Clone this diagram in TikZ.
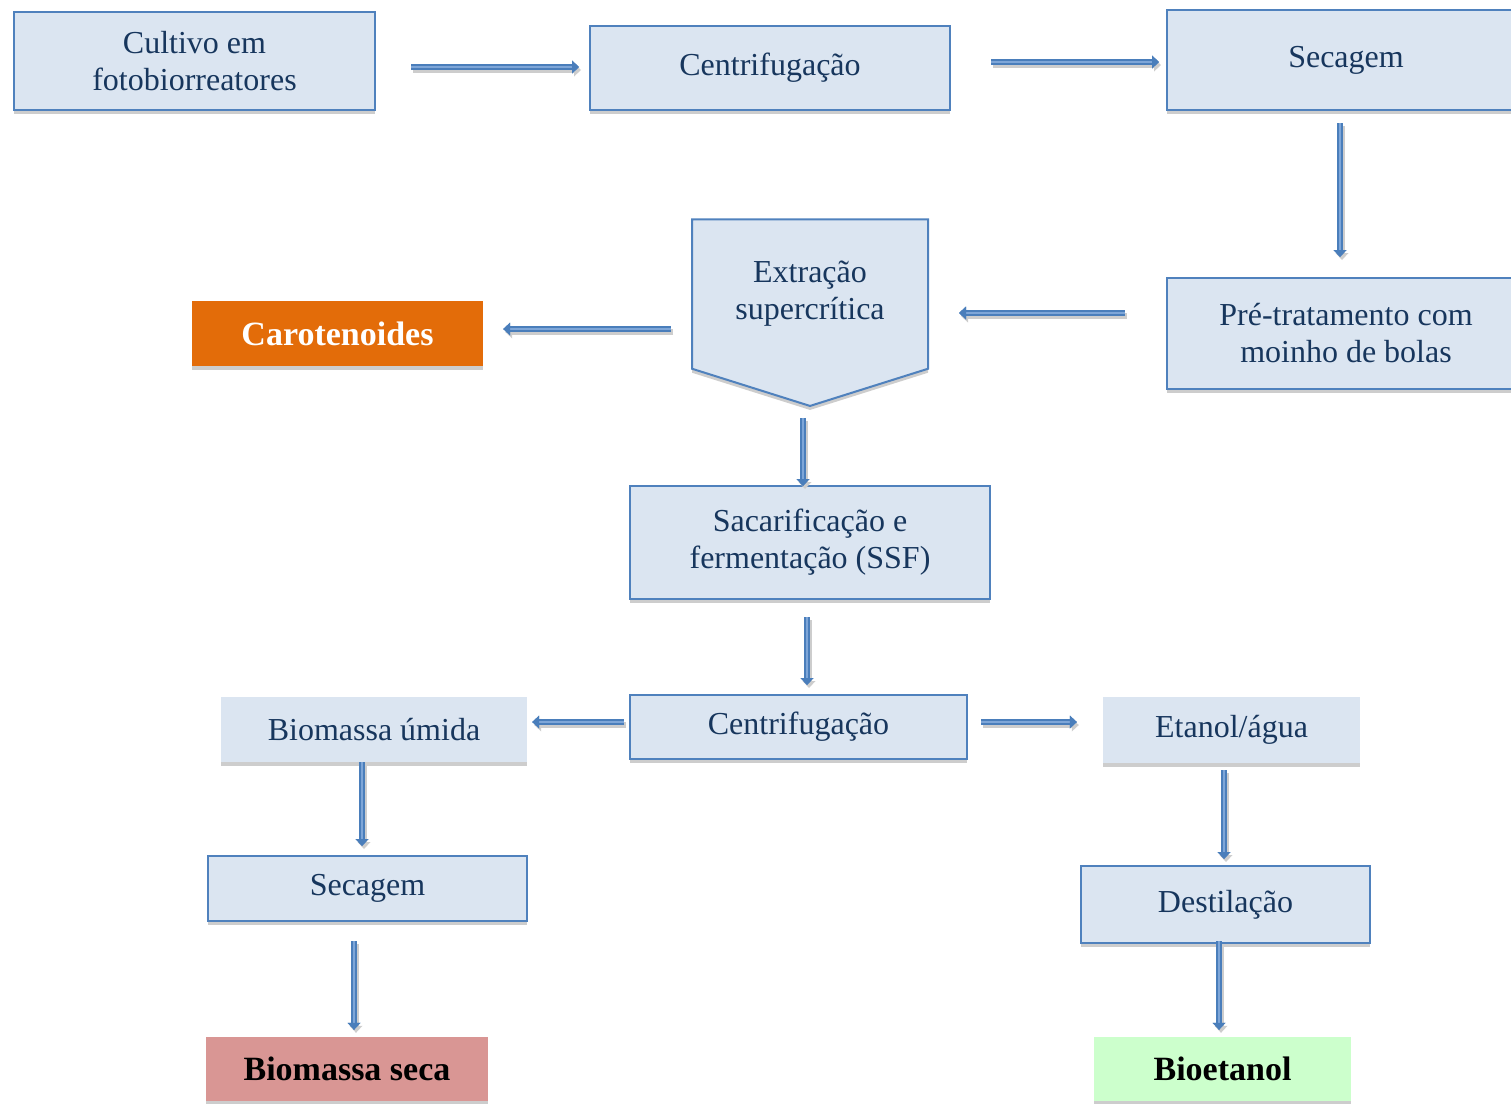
\documentclass[tikz,border=0pt]{standalone}
\usepackage{fontspec}
\setmainfont{Liberation Serif}
\usetikzlibrary{arrows.meta,calc,shapes.symbols}
\definecolor{borda}{RGB}{79,129,189}
\definecolor{fundo}{RGB}{219,229,241}
\definecolor{sombra}{RGB}{205,205,205}
\definecolor{texto}{RGB}{23,54,93}
\definecolor{laranja}{RGB}{227,108,9}
\definecolor{rosa}{RGB}{217,150,148}
\definecolor{verde}{RGB}{204,255,204}
\definecolor{setaborda}{RGB}{74,126,187}
\definecolor{setamiolo}{RGB}{126,166,216}
\begin{document}
\begin{tikzpicture}[x=1pt,y=-1pt,
  every node/.style={font=\fontsize{32}{37}\selectfont, text=texto, align=center, inner sep=0pt},
  caixa/.style={draw=borda, line width=2pt, fill=fundo, preaction={fill=sombra, transform canvas={yshift=-4pt}}},
  semborda/.style={fill=fundo, preaction={fill=sombra, transform canvas={yshift=-4pt}}},
  produto/.style={fill=#1, text=black, font=\fontsize{34}{37}\selectfont\bfseries, preaction={fill=sombra, transform canvas={yshift=-4pt}}},
  seta/.style={line width=2.5pt, draw=setamiolo, -{Triangle[width=13pt,length=7pt,line width=0pt,color=setaborda]},
    preaction={draw=sombra, line width=6pt, -{Triangle[width=13pt,length=7pt,line width=0pt]}, transform canvas={shift={(2pt,-3pt)}}},
    preaction={draw=setaborda, line width=6pt, -{Triangle[width=13pt,length=7pt,line width=0pt]}}}]
  \useasboundingbox (0,0) rectangle (1511,1103);

  \node[caixa, minimum width=361, minimum height=98] (cultivo) at (194.5,61) {Cultivo em\\fotobiorreatores};
  \node[caixa, minimum width=360, minimum height=84] (centrif1) at (770,68) {Centrifugação};
  \node[caixa, minimum width=358, minimum height=100] (secagem1) at (1346,60) {Secagem};
  \node[caixa, minimum width=358, minimum height=111] (pretrat) at (1346,333.5) {Pré-tratamento com\\moinho de bolas};
  \node[caixa, signal, signal to=south, signal pointer angle=145, minimum width=236, minimum height=173] (extracao) at (810,294) {Extração\\supercrítica};
  \node[produto=laranja, text=white, minimum width=291, minimum height=65] (carot) at (337.5,333.5) {Carotenoides};
  \node[caixa, minimum width=360, minimum height=113] (ssf) at (810,542.5) {Sacarificação e\\fermentação (SSF)};
  \node[caixa, minimum width=337, minimum height=64] (centrif2) at (798.5,727) {Centrifugação};
  \node[semborda, minimum width=306, minimum height=65] (bumida) at (374,729.5) {Biomassa úmida};
  \node[semborda, minimum width=257, minimum height=66] (etanol) at (1231.5,730) {Etanol/água};
  \node[caixa, minimum width=319, minimum height=65] (secagem2) at (367.5,888.5) {Secagem};
  \node[caixa, minimum width=289, minimum height=77] (destil) at (1225.5,904.5) {Destilação};
  \node[produto=rosa, minimum width=282, minimum height=64] (bseca) at (347,1069) {Biomassa seca};
  \node[produto=verde, minimum width=257, minimum height=64] (bioet) at (1222.5,1069) {Bioetanol};

  \draw[seta] ($(cultivo.east |- centrif1.west)+(35,-1)$) -- ($(centrif1.west)+(-10,-1)$);
  \draw[seta] ($(centrif1.east |- secagem1.west)+(40,2)$) -- ($(secagem1.west)+(-7,2)$);
  \draw[seta] ($(secagem1.south)+(-6,12)$) -- ($(pretrat.north)+(-6,-20)$);
  \draw[seta] ($(pretrat.west)+(-41,-20.5)$) -- ($(extracao.east |- pretrat.west)+(30,-20.5)$);
  \draw[seta] ($(extracao.west |- carot.east)+(-20,-4.5)$) -- ($(carot.east)+(20,-4.5)$);
  \draw[seta] ($(extracao.south)+(-7,11)$) -- ($(ssf.north)+(-7,1)$);
  \draw[seta] ($(ssf.south)+(-3,17)$) -- ($(ssf.south |- centrif2.north)+(-3,-9)$);
  \draw[seta] ($(centrif2.west)+(-5,-5)$) -- ($(bumida.east)+(5,-7.5)$);
  \draw[seta] ($(centrif2.east)+(13,-5)$) -- ($(etanol.west)+(-26,-8)$);
  \draw[seta] ($(bumida.south)+(-12,0)$) -- ($(bumida.south |- secagem2.north)+(-12,-9)$);
  \draw[seta] ($(etanol.south)+(-7.5,7)$) -- ($(etanol.south |- destil.north)+(-7.5,-6)$);
  \draw[seta] ($(secagem2.south)+(-13.5,19)$) -- ($(secagem2.south |- bseca.north)+(-13.5,-7)$);
  \draw[seta] ($(destil.south)+(-6.5,-3)$) -- ($(destil.south |- bioet.north)+(-6.5,-7)$);
\end{tikzpicture}
\end{document}
